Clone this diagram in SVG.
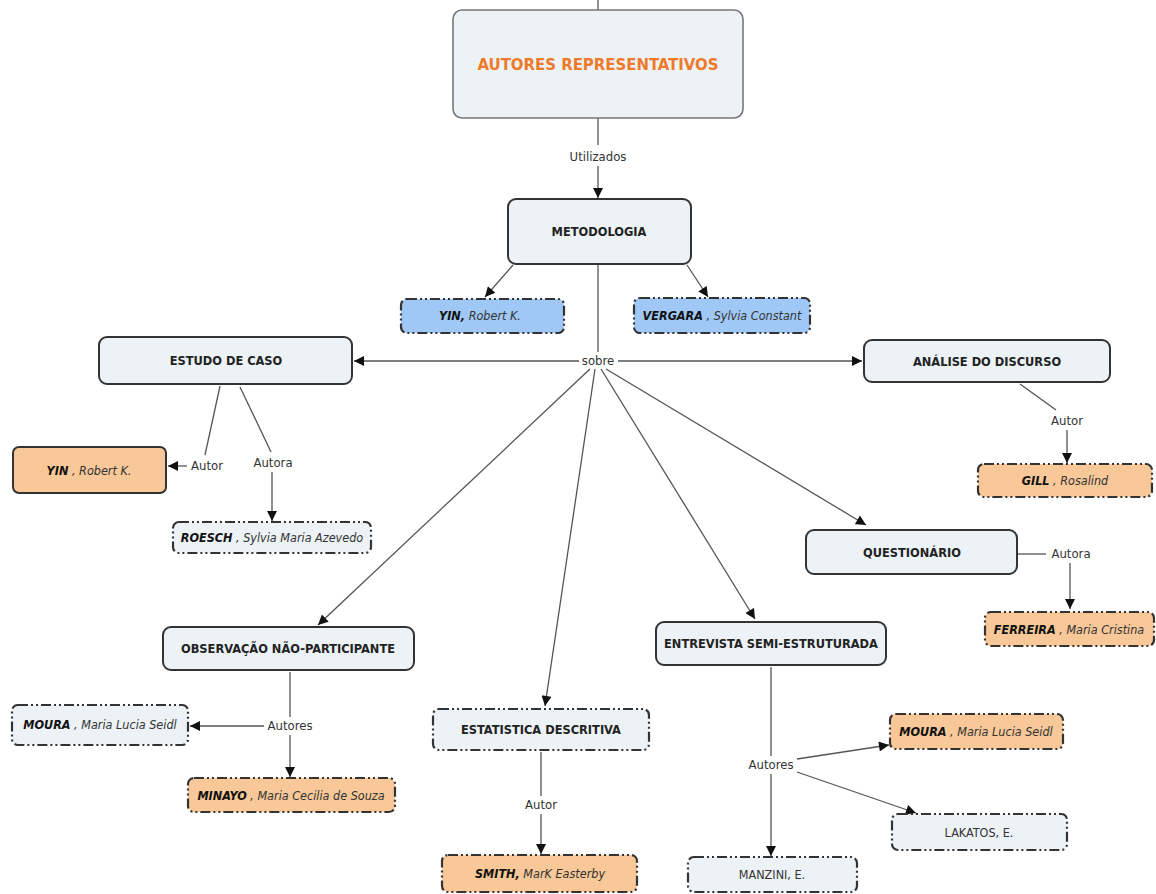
<svg xmlns="http://www.w3.org/2000/svg" width="1156" height="894" viewBox="0 0 1156 894">
<defs>
  <marker id="arr" viewBox="0 0 10 10" refX="10" refY="5" markerWidth="11" markerHeight="10" markerUnits="userSpaceOnUse" orient="auto">
    <path d="M0,0 L10,5 L0,10 z" fill="#111"/>
  </marker>
  <style>
    .node { fill: #ecf2f6; stroke: #333; stroke-width: 2; }
    .root { fill: #ecf2f6; stroke: #777; stroke-width: 1.6; }
    .dash { stroke-dasharray: 10 3 2 3 2 3; stroke-width: 2.2; }
    .orange { fill: #f8c898; }
    .blue { fill: #9fc8f6; }
    .title { font-family: "DejaVu Sans Condensed", "DejaVu Sans", sans-serif; font-stretch: condensed; font-weight: bold; font-size: 12.7px; fill: #222; text-anchor: middle; }
    .name { font-family: "DejaVu Sans Condensed", "DejaVu Sans", sans-serif; font-stretch: condensed; font-style: italic; font-size: 12.5px; fill: #333; text-anchor: middle; }
    .name .s { font-weight: bold; fill: #111; }
    .plain { font-family: "DejaVu Sans Condensed", "DejaVu Sans", sans-serif; font-stretch: condensed; font-size: 12.5px; fill: #333; text-anchor: middle; }
    .lbl { font-family: "DejaVu Sans Condensed", "DejaVu Sans", sans-serif; font-stretch: condensed; font-size: 13px; fill: #333; text-anchor: middle; }
    .ln { fill: none; stroke: #555; stroke-width: 1.3; }
  </style>
</defs>
<rect width="1156" height="894" fill="#fff"/>

<!-- connectors and linking phrases -->
<g id="connectors">
  <line class="ln" x1="598" y1="0" x2="598" y2="10"/>
  <line class="ln" x1="598" y1="118" x2="598" y2="145"/>
  <text class="lbl" x="598" y="161">Utilizados</text>
  <line class="ln" x1="598" y1="166" x2="598" y2="198" marker-end="url(#arr)"/>

  <line class="ln" x1="513" y1="265" x2="485" y2="297" marker-end="url(#arr)"/>
  <line class="ln" x1="687" y1="265" x2="708" y2="297" marker-end="url(#arr)"/>
  <line class="ln" x1="598" y1="265" x2="598" y2="352"/>
  <text class="lbl" x="598" y="365">sobre</text>
  <line class="ln" x1="579" y1="361" x2="354" y2="361" marker-end="url(#arr)"/>
  <line class="ln" x1="618" y1="361" x2="862" y2="361" marker-end="url(#arr)"/>
  <line class="ln" x1="590" y1="369" x2="318" y2="625" marker-end="url(#arr)"/>
  <line class="ln" x1="595" y1="369" x2="545" y2="706" marker-end="url(#arr)"/>
  <line class="ln" x1="601" y1="369" x2="755" y2="619" marker-end="url(#arr)"/>
  <line class="ln" x1="606" y1="369" x2="866" y2="525" marker-end="url(#arr)"/>

  <!-- ESTUDO DE CASO -->
  <line class="ln" x1="220" y1="386" x2="205" y2="455"/>
  <text class="lbl" x="207" y="470">Autor</text>
  <line class="ln" x1="187" y1="466" x2="168" y2="466" marker-end="url(#arr)"/>
  <line class="ln" x1="240" y1="387" x2="271" y2="452"/>
  <text class="lbl" x="273" y="467">Autora</text>
  <line class="ln" x1="272" y1="472" x2="272" y2="521" marker-end="url(#arr)"/>

  <!-- ANÁLISE DO DISCURSO -->
  <line class="ln" x1="1020" y1="384" x2="1056" y2="410"/>
  <text class="lbl" x="1067" y="425">Autor</text>
  <line class="ln" x1="1067" y1="430" x2="1067" y2="463" marker-end="url(#arr)"/>

  <!-- QUESTIONÁRIO -->
  <line class="ln" x1="1018" y1="554" x2="1046" y2="554"/>
  <text class="lbl" x="1071" y="558">Autora</text>
  <line class="ln" x1="1070" y1="563" x2="1070" y2="609" marker-end="url(#arr)"/>

  <!-- OBSERVAÇÃO -->
  <line class="ln" x1="290" y1="672" x2="290" y2="717"/>
  <text class="lbl" x="290" y="730">Autores</text>
  <line class="ln" x1="264" y1="726" x2="190" y2="726" marker-end="url(#arr)"/>
  <line class="ln" x1="290" y1="735" x2="290" y2="777" marker-end="url(#arr)"/>

  <!-- ESTATISTICA -->
  <line class="ln" x1="541" y1="752" x2="541" y2="796"/>
  <text class="lbl" x="541" y="809">Autor</text>
  <line class="ln" x1="541" y1="814" x2="541" y2="854" marker-end="url(#arr)"/>

  <!-- ENTREVISTA -->
  <line class="ln" x1="771" y1="667" x2="771" y2="756"/>
  <text class="lbl" x="771" y="769">Autores</text>
  <line class="ln" x1="771" y1="774" x2="771" y2="856" marker-end="url(#arr)"/>
  <line class="ln" x1="797" y1="759" x2="889" y2="745" marker-end="url(#arr)"/>
  <line class="ln" x1="797" y1="772" x2="916" y2="813" marker-end="url(#arr)"/>
</g>

<g id="autores-representativos">
  <rect class="root" x="453" y="10" width="290" height="108" rx="9"/>
  <text x="598" y="70" font-family="DejaVu Sans Condensed, DejaVu Sans, sans-serif" font-stretch="condensed" font-weight="bold" font-size="16.6" fill="#ee7a2a" text-anchor="middle">AUTORES REPRESENTATIVOS</text>
</g>

<g id="metodologia">
  <rect class="node" x="508" y="199" width="183" height="65" rx="8"/>
  <text class="title" x="599" y="236">METODOLOGIA</text>
</g>

<g id="yin-metodologia">
  <rect class="node blue dash" x="401" y="299" width="163" height="34" rx="6"/>
  <text class="name" x="480" y="320"><tspan class="s">YIN,</tspan>  Robert K.</text>
</g>

<g id="vergara">
  <rect class="node blue dash" x="634" y="298" width="176" height="35" rx="6"/>
  <text class="name" x="722" y="320"><tspan class="s">VERGARA</tspan> , Sylvia Constant</text>
</g>

<g id="estudo-de-caso">
  <rect class="node" x="99" y="337" width="253" height="47" rx="8"/>
  <text class="title" x="226" y="365">ESTUDO DE CASO</text>
</g>

<g id="analise-do-discurso">
  <rect class="node" x="864" y="340" width="246" height="42" rx="8"/>
  <text class="title" x="987" y="366">ANÁLISE DO DISCURSO</text>
</g>

<g id="yin-estudo">
  <rect class="node orange" x="13" y="447" width="153" height="46" rx="6"/>
  <text class="name" x="89" y="475"><tspan class="s">YIN</tspan> , Robert K.</text>
</g>

<g id="roesch">
  <rect class="node dash" x="173" y="522" width="198" height="31" rx="6"/>
  <text class="name" x="272" y="542"><tspan class="s">ROESCH</tspan> , Sylvia Maria Azevedo</text>
</g>

<g id="gill">
  <rect class="node orange dash" x="978" y="464" width="174" height="33" rx="6"/>
  <text class="name" x="1065" y="485"><tspan class="s">GILL</tspan> , Rosalind</text>
</g>

<g id="questionario">
  <rect class="node" x="806" y="530" width="211" height="44" rx="8"/>
  <text class="title" x="912" y="557">QUESTIONÁRIO</text>
</g>

<g id="ferreira">
  <rect class="node orange dash" x="985" y="612" width="169" height="34" rx="6"/>
  <text class="name" x="1069" y="634"><tspan class="s">FERREIRA</tspan> , Maria Cristina</text>
</g>

<g id="observacao">
  <rect class="node" x="163" y="627" width="251" height="43" rx="8"/>
  <text class="title" x="288" y="653">OBSERVAÇÃO NÃO-PARTICIPANTE</text>
</g>

<g id="entrevista">
  <rect class="node" x="656" y="622" width="230" height="43" rx="8"/>
  <text class="title" x="771" y="648">ENTREVISTA SEMI-ESTRUTURADA</text>
</g>

<g id="moura-observacao">
  <rect class="node dash" x="12" y="705" width="176" height="40" rx="6"/>
  <text class="name" x="100" y="729"><tspan class="s">MOURA</tspan> , Maria Lucia Seidl</text>
</g>

<g id="minayo">
  <rect class="node orange dash" x="188" y="778" width="207" height="34" rx="6"/>
  <text class="name" x="291" y="800"><tspan class="s">MINAYO</tspan> , Maria Cecilia de Souza</text>
</g>

<g id="estatistica">
  <rect class="node dash" x="433" y="709" width="216" height="41" rx="6"/>
  <text class="title" x="541" y="734">ESTATISTICA DESCRITIVA</text>
</g>

<g id="smith">
  <rect class="node orange dash" x="442" y="855" width="195" height="37" rx="6"/>
  <text class="name" x="540" y="878"><tspan class="s">SMITH,</tspan>  MarK Easterby</text>
</g>

<g id="moura-entrevista">
  <rect class="node orange dash" x="890" y="714" width="173" height="35" rx="6"/>
  <text class="name" x="976" y="736"><tspan class="s">MOURA</tspan> , Maria Lucia Seidl</text>
</g>

<g id="lakatos">
  <rect class="node dash" x="892" y="814" width="175" height="36" rx="6"/>
  <text class="plain" x="979" y="837">LAKATOS, E.</text>
</g>

<g id="manzini">
  <rect class="node dash" x="688" y="857" width="169" height="35" rx="6"/>
  <text class="plain" x="772" y="879">MANZINI, E.</text>
</g>
</svg>
